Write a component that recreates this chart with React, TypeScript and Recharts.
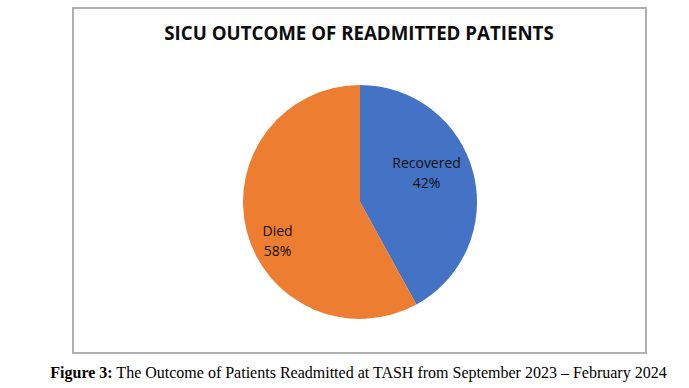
import React from "react";
import { Cell, Pie, PieChart } from "recharts";

const outcomes = ["Recovered", "Died"];
const shares = [42, 58];
const sliceColors = ["#4472C4", "#ED7D31"];

const chartTitle = "SICU OUTCOME OF READMITTED PATIENTS";
const captionLead = "Figure 3:";
const captionText = " The Outcome of Patients Readmitted at TASH from September 2023 \u2013 February 2024";

const data = outcomes.map((name, i) => ({ name, value: shares[i] }));

// Excel "best fit" label placement, tuned per slice
const labelPlacement: Record<string, { r: number; shift: number }> = {
  Recovered: { r: 0.62, shift: 9 },
  Died: { r: 0.78, shift: 11 },
};

const RAD = Math.PI / 180;

function SliceLabel(props: any) {
  const { cx, cy, midAngle, outerRadius, name, value } = props;
  const place = labelPlacement[name] ?? { r: 0.65, shift: 0 };
  const a = (midAngle + place.shift) * RAD;
  const x = cx + outerRadius * place.r * Math.cos(a);
  const y = cy - outerRadius * place.r * Math.sin(a);
  return (
    <text
      x={x}
      y={y}
      textAnchor="middle"
      fill="#111"
      fontFamily="'Open Sans', sans-serif"
      fontSize={14}
    >
      <tspan x={x} dy={-5}>{name}</tspan>
      <tspan x={x} dy={20}>{value}%</tspan>
    </text>
  );
}

export default function App() {
  return (
    <div style={{ position: "absolute", left: 0, top: 0, width: 689, height: 388, background: "#fff" }}>
      <div
        style={{
          position: "absolute",
          left: 72,
          top: 7,
          width: 575,
          height: 347,
          boxSizing: "border-box",
          border: "2px solid #b0b0b0",
        }}
      />
      <div style={{ position: "absolute", left: 0, top: 0 }}>
        <PieChart width={689} height={388} margin={{ top: 0, right: 0, bottom: 0, left: 0 }}>
          <Pie
            data={data}
            dataKey="value"
            nameKey="name"
            cx={360}
            cy={202}
            outerRadius={117}
            startAngle={90}
            endAngle={-270}
            stroke="none"
            label={SliceLabel}
            labelLine={false}
            isAnimationActive={false}
          >
            {data.map((d, i) => (
              <Cell key={d.name} fill={sliceColors[i]} />
            ))}
          </Pie>
        </PieChart>
      </div>
      <svg width={689} height={388} style={{ position: "absolute", left: 0, top: 0, pointerEvents: "none" }}>
        <text
          x={359}
          y={40}
          textAnchor="middle"
          fontFamily="'Open Sans', sans-serif"
          fontWeight={700}
          fontSize={18.7}
          fill="#0d0d0d"
        >
          {chartTitle}
        </text>
        <text
          x={358.5}
          y={378}
          textAnchor="middle"
          fontFamily="'Liberation Serif', 'Times New Roman', serif"
          fontSize={16}
          fill="#000"
        >
          <tspan fontWeight={700}>{captionLead}</tspan>
          <tspan>{captionText}</tspan>
        </text>
      </svg>
    </div>
  );
}
